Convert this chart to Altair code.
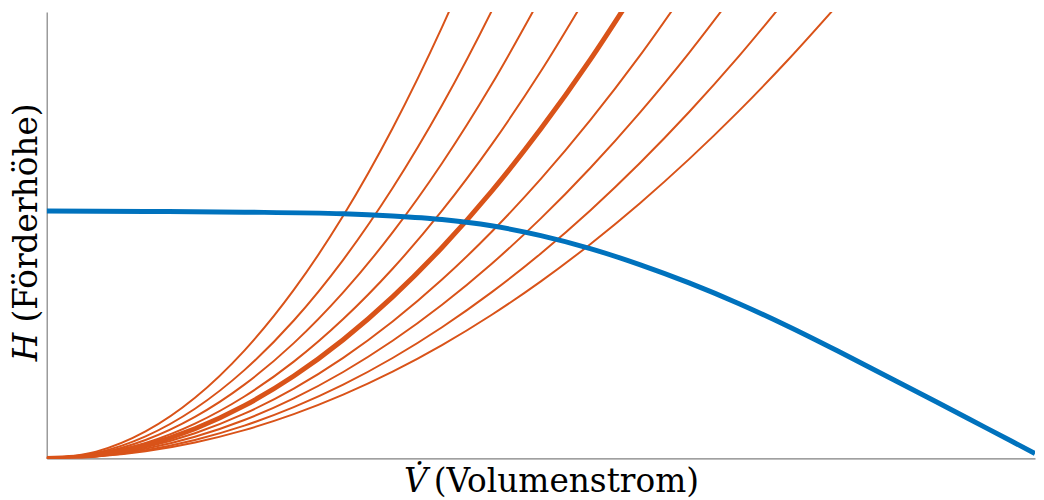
import altair as alt
import pandas as pd

# Volume flow grid (shared by the system curves), in % of the x range
V_GRID = [0, 5, 10, 15, 20, 25, 30, 35, 40, 45, 50, 55, 60, 65, 70, 75, 80]

# System characteristic curves H(V) (head in % of y range)
SYS_1 = [0, 1.51, 6.04, 13.58, 24.15, 37.73, 54.33, 73.95, 96.59, 122.2]
SYS_2 = [0, 1.24, 4.94, 11.12, 19.77, 30.89, 44.48, 60.55, 79.08, 100.1, 123.6]
SYS_3 = [0, 1.03, 4.13, 9.30, 16.52, 25.82, 37.18, 50.61, 66.10, 83.66, 103.3]
SYS_4 = [0, 0.87, 3.47, 7.80, 13.87, 21.67, 31.21, 42.48, 55.48, 70.22, 86.69, 104.9]
SYS_5 = [0, 0.74, 2.95, 6.64, 11.81, 18.45, 26.57, 36.17, 47.24, 59.78, 73.81, 89.31, 106.3]
SYS_6 = [0, 0.63, 2.50, 5.63, 10.01, 15.65, 22.53, 30.67, 40.06, 50.70, 62.59, 75.74, 90.13, 105.8]
SYS_7 = [0, 0.54, 2.15, 4.84, 8.60, 13.44, 19.35, 26.34, 34.40, 43.54, 53.75, 65.04, 77.40, 90.84, 105.3]
SYS_8 = [0, 0.46, 1.84, 4.13, 7.34, 11.48, 16.52, 22.49, 29.38, 37.18, 45.90, 55.54, 66.10, 77.57, 89.97, 103.3]
SYS_9 = [0, 0.40, 1.59, 3.57, 6.34, 9.91, 14.28, 19.43, 25.38, 32.12, 39.65, 47.98, 57.10, 67.02, 77.72, 89.22, 101.5]
SYS_CURVES = [SYS_1, SYS_2, SYS_3, SYS_4, SYS_5, SYS_6, SYS_7, SYS_8, SYS_9]
THICK_CURVE = "k5"

# Pump characteristic curve
PUMP_V = [0, 10, 20, 30, 35, 40, 45, 50, 55, 60, 65, 70, 75, 80, 85, 90, 95, 100]
PUMP_H = [55.4, 55.3, 55.15, 54.8, 54.3, 53.5, 52.1, 49.9, 47.0, 43.4, 39.3, 34.7, 29.6, 24.1, 18.4, 12.7, 6.9, 1.1]

ORANGE = "#D95319"
BLUE = "#0072BD"
AXIS_GRAY = "#808080"
FONT = "DejaVu Serif"
FS = 33

rows = []
for i, hs in enumerate(SYS_CURVES):
    for v, h in zip(V_GRID, hs):
        rows.append({"V": v, "H": h, "curve": f"k{i + 1}"})
sys_df = pd.DataFrame(rows)
thin_df = sys_df[sys_df["curve"] != THICK_CURVE]
thick_df = sys_df[sys_df["curve"] == THICK_CURVE]
pump_df = pd.DataFrame({"V": PUMP_V, "H": PUMP_H})

axis_kw = dict(title=None, labels=False, ticks=False, grid=False,
               domainColor=AXIS_GRAY, domainWidth=1.2)
x_enc = alt.X("V:Q", scale=alt.Scale(domain=[0, 100], nice=False, zero=False),
              axis=alt.Axis(**axis_kw))
y_enc = alt.Y("H:Q", scale=alt.Scale(domain=[0, 100], nice=False, zero=False),
              axis=alt.Axis(**axis_kw))

thin = alt.Chart(thin_df).mark_line(
    color=ORANGE, strokeWidth=2, clip=True, interpolate="monotone"
).encode(x=x_enc, y=y_enc, detail="curve:N")

thick = alt.Chart(thick_df).mark_line(
    color=ORANGE, strokeWidth=5, clip=True, interpolate="monotone"
).encode(x=x_enc, y=y_enc, detail="curve:N")

pump = alt.Chart(pump_df).mark_line(
    color=BLUE, strokeWidth=5, clip=True, interpolate="monotone"
).encode(x=x_enc, y=y_enc)


def label(text, x, y, italic=False, angle=0, align="left"):
    kw = dict(font=FONT, fontSize=FS, color="black", align=align,
              baseline="alphabetic")
    if italic:
        kw["fontStyle"] = "italic"
    if angle:
        kw["angle"] = angle
    return alt.Chart(pd.DataFrame({"t": [text]})).mark_text(**kw).encode(
        text="t:N", x=alt.value(x), y=alt.value(y))


x_title_sym = label("V\u0307", 384, 484, italic=True, align="right")
x_title_txt = label("(Volumenstrom)", 390, 484)
y_title_sym = label("H", -10, 352, italic=True, angle=270)
y_title_txt = label("(Förderhöhe)", -10, 313, angle=270)

chart = alt.layer(
    thin, thick, pump, x_title_sym, x_title_txt, y_title_sym, y_title_txt
).properties(
    width=996, height=450, autosize="none",
    padding={"left": 39, "top": 2, "right": 1, "bottom": 40},
).configure_view(stroke=None)

chart.save("out.html", embed_options={"renderer": "svg", "actions": False})
